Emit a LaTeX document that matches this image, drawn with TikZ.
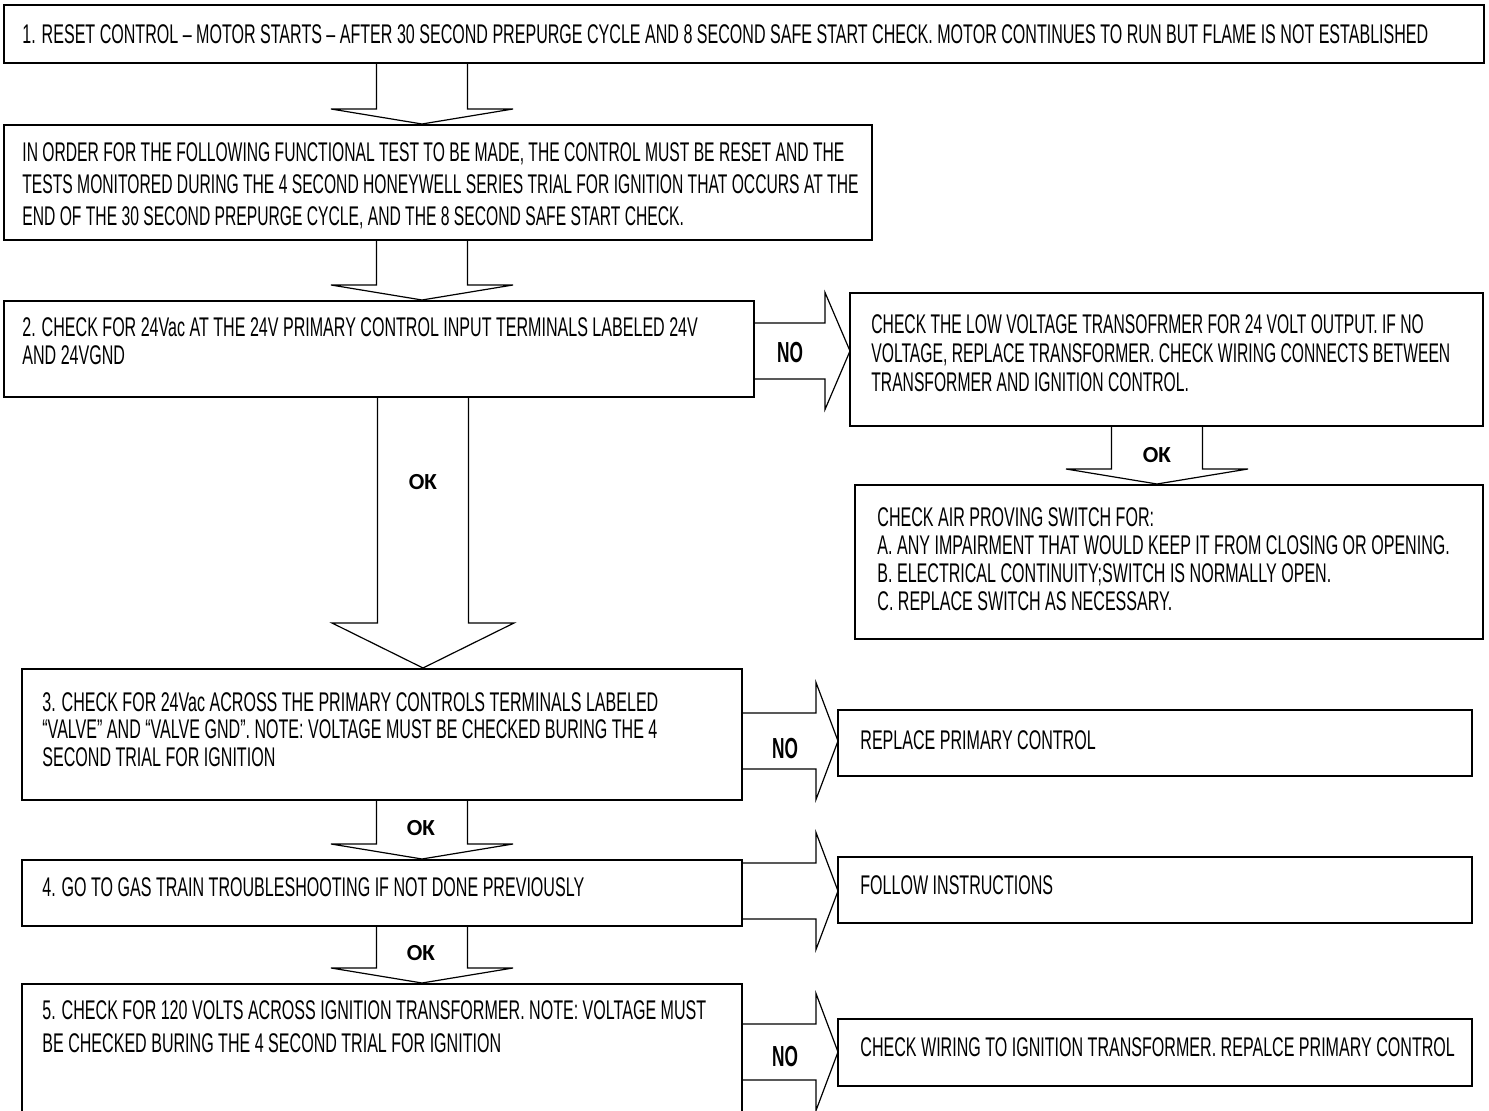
\documentclass[tikz,border=0pt]{standalone}
\usepackage{fontspec}
\newfontfamily\agency[FakeStretch=0.595]{Liberation Sans}
\newfontfamily\agencyN[FakeStretch=0.58]{Liberation Sans}
\newfontfamily\okfont{Carlito}
\usetikzlibrary{fit,calc}
\tikzset{
  boxst/.style={draw=black, line width=1pt, inner sep=0pt},
  txt/.style={font=\agency\fontsize{13.5pt}{#1}\selectfont, align=left, anchor=north west, inner sep=0pt},
  txt/.default=15pt,
  txtn/.style={font=\agencyN\fontsize{13.5pt}{#1}\selectfont, align=left, anchor=north west, inner sep=0pt},
  txtn/.default=15pt,
  line/.style={font=\agency\fontsize{13.5pt}{15pt}\selectfont, anchor=west, inner sep=0pt},
  blk/.style={draw=black, line width=0.6pt, line join=miter},
  oklab/.style={font=\okfont\bfseries\fontsize{11.5pt}{12pt}\selectfont, inner sep=0pt},
  nolab/.style={font=\agency\bfseries\fontsize{14.5pt}{15pt}\selectfont, inner sep=0pt},
}
\newcommand\mkbox[5]{\node[boxst, fit={(#2,#3) (#4,#5)}] (#1) {};}
% down block arrow: #1 upper node, #2 lower node, #3 x-centre coordinate, #4 head length
\newcommand\blkdown[4]{%
  \draw[blk] let \p1=(#1.south -| #3), \p2=(#2.north -| #3) in
   (\x1-22.75pt,\y1) -- (\x1-22.75pt,\y2+#4) -- (\x1-45.5pt,\y2+#4) -- (\x1,\y2)
   -- (\x1+45.5pt,\y2+#4) -- (\x1+22.75pt,\y2+#4) -- (\x1+22.75pt,\y1);}
% right block arrow: #1 source node, #2 tip coordinate, #3 head length
\newcommand\blkright[3]{%
  \draw[blk] let \p1=(#1.east), \p2=(#2) in
   (\x1,\y2+14pt) -- (\x2-#3,\y2+14pt) -- (\x2-#3,\y2+29.25pt) -- (\x2,\y2)
   -- (\x2-#3,\y2-29.25pt) -- (\x2-#3,\y2-14pt) -- (\x1,\y2-14pt);}
\begin{document}
\begin{tikzpicture}[x=0.5pt,y=-0.5pt]
\useasboundingbox (0,0) rectangle (1489,1111);
% boxes
\mkbox{b1}{4}{5}{1484}{63}
\mkbox{b2}{4}{125}{872}{240}
\mkbox{b3}{4}{301}{754}{397}
\mkbox{r1}{850}{293}{1483}{426}
\mkbox{r2}{855}{485}{1483}{639}
\mkbox{b4}{22}{669}{742}{800}
\mkbox{r3}{838}{710}{1472}{776}
\mkbox{b5}{22}{860}{742}{926}
\mkbox{r4}{838}{857}{1472}{923}
\mkbox{b6}{22}{984}{742}{1114}
\mkbox{r5}{838}{1019}{1472}{1086}
% x-centres and tips
\coordinate (ax) at (422,0);
\coordinate (bx) at (423,0);
\coordinate (rx) at (1157,0);
\coordinate (tA) at (850,351);
\coordinate (tB) at (838,741);
\coordinate (tC) at (838,891);
\coordinate (tD) at (838,1052);
% texts
\node[line] (t1) at (22,34) {1. RESET CONTROL – MOTOR STARTS – AFTER 30 SECOND PREPURGE CYCLE AND 8 SECOND SAFE START CHECK. MOTOR CONTINUES TO RUN BUT FLAME IS NOT ESTABLISHED};
\node[txtn=16pt] (t2) at (22,142) {IN ORDER FOR THE FOLLOWING FUNCTIONAL TEST TO BE MADE, THE CONTROL MUST BE RESET AND THE\\TESTS MONITORED DURING THE 4 SECOND HONEYWELL SERIES TRIAL FOR IGNITION THAT OCCURS AT THE\\END OF THE 30 SECOND PREPURGE CYCLE, AND THE 8 SECOND SAFE START CHECK.};
\node[txt=14pt] (t3) at (22,317) {2. CHECK FOR 24Vac AT THE 24V PRIMARY CONTROL INPUT TERMINALS LABELED 24V\\AND 24VGND};
\node[txtn=14.5pt] (t4) at (871,314) {CHECK THE LOW VOLTAGE TRANSOFRMER FOR 24 VOLT OUTPUT. IF NO\\VOLTAGE, REPLACE TRANSFORMER. CHECK WIRING CONNECTS BETWEEN\\TRANSFORMER AND IGNITION CONTROL.};
\node[txt=14pt] (t5) at (877,507) {CHECK AIR PROVING SWITCH FOR:\\A. ANY IMPAIRMENT THAT WOULD KEEP IT FROM CLOSING OR OPENING.\\B. ELECTRICAL CONTINUITY;SWITCH IS NORMALLY OPEN.\\C. REPLACE SWITCH AS NECESSARY.};
\node[txt=13.75pt] (t6) at (42,692) {3. CHECK FOR 24Vac ACROSS THE PRIMARY CONTROLS TERMINALS LABELED\\“VALVE” AND “VALVE GND”. NOTE: VOLTAGE MUST BE CHECKED BURING THE 4\\SECOND TRIAL FOR IGNITION};
\node[line] (t7) at (860,740) {REPLACE PRIMARY CONTROL};
\node[line] (t8) at (42,887) {4. GO TO GAS TRAIN TROUBLESHOOTING IF NOT DONE PREVIOUSLY};
\node[line] (t9) at (860,885) {FOLLOW INSTRUCTIONS};
\node[txt=16.5pt] (t10) at (42,1000) {5. CHECK FOR 120 VOLTS ACROSS IGNITION TRANSFORMER. NOTE: VOLTAGE MUST\\BE CHECKED BURING THE 4 SECOND TRIAL FOR IGNITION};
\node[line] (t11) at (860,1047) {CHECK WIRING TO IGNITION TRANSFORMER. REPALCE PRIMARY CONTROL};
% block arrows
\blkdown{b1}{b2}{ax}{7.5pt}
\blkdown{b2}{b3}{ax}{7.5pt}
\blkdown{b3}{b4}{bx}{22.5pt}
\blkdown{b4}{b5}{ax}{7.5pt}
\blkdown{b5}{b6}{ax}{7.5pt}
\blkdown{r1}{r2}{rx}{7.5pt}
\blkright{b3}{tA}{12.5pt}
\blkright{b4}{tB}{11pt}
\blkright{b5}{tC}{11pt}
\blkright{b6}{tD}{11pt}
% labels
\node[oklab] (ok1) at (423,482) {OK};
\node[oklab] (ok2) at (1157,455) {OK};
\node[oklab] (ok3) at (421,828) {OK};
\node[oklab] (ok4) at (421,953) {OK};
\node[nolab] (no1) at (790,353) {NO};
\node[nolab] (no2) at (785,749) {NO};
\node[nolab] (no3) at (785,1057) {NO};
\end{tikzpicture}
\end{document}
